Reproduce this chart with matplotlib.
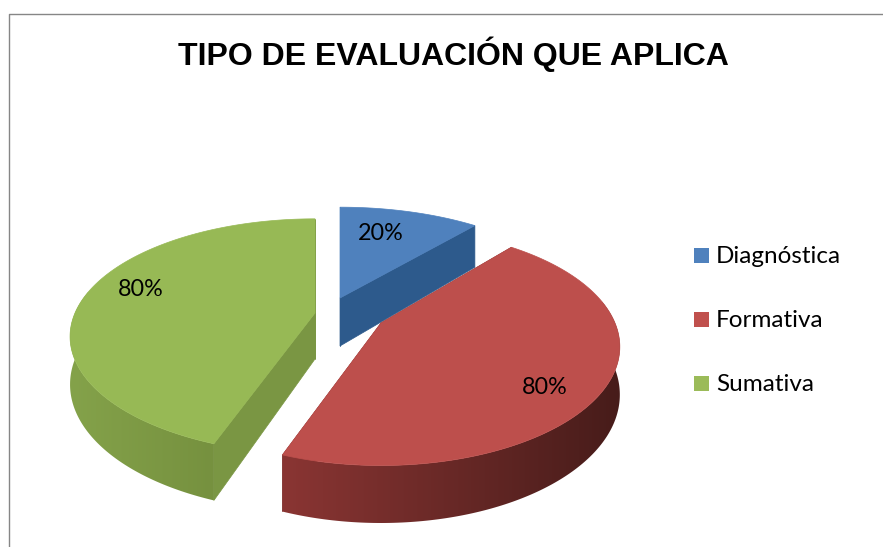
import numpy as np
import matplotlib
matplotlib.use('Agg')
import matplotlib.pyplot as plt
from matplotlib.colors import LinearSegmentedColormap
from matplotlib.patches import Polygon, Rectangle

title = 'TIPO DE EVALUACIÓN QUE APLICA'
categories = ['Diagnóstica', 'Formativa', 'Sumativa']
values = [20, 80, 80]
top_colors = ['#4f81bd', '#bd4f4c', '#97b955']
legend_colors = ['#4f81bd', '#c0504d', '#9bbb59']
cut_colors = ['#2d5a8c', '#7a302e', '#7a9643']
wall_left = ['#3f679a', '#8a3533', '#84a24a']
wall_right = ['#2d5a8c', '#471c1a', '#76913f']

# per slice layout, in pixels
centers = [(340, 298), (381, 323), (315, 313)]
radius_x = [242, 234, 240]
radius_y = [109, 114, 113]
depths = [48, 46, 46]
label_pos = [(381, 234), (545, 388), (141, 290)]
legend_y = [255.5, 319.5, 383.5]
draw_order = [2, 0, 1]

K = 0.2


def rim(t, i):
    # ellipse with a small perspective, the back is narrower than the front
    cx, cy = centers[i]
    w = 1 + K * np.sin(t)
    return cx + radius_x[i] * np.cos(t) / w, cy - radius_y[i] * np.sin(t) / w, depths[i] / w


fig = plt.figure(figsize=(8.83, 5.47), dpi=100)
ax = fig.add_axes([0, 0, 1, 1])

# chart border, only top and left are in the crop
ax.plot([8.5, 8.5, 883], [547, 13.5, 13.5], color='#868686', lw=1)

# slices run clockwise from 12 o'clock
angles = 90 - np.cumsum([0] + values) / sum(values) * 360

z = 2
for i in draw_order:
    cx, cy = centers[i]
    t = np.radians(np.linspace(angles[i], angles[i + 1], 200))
    x, y, d = rim(t, i)

    # cut faces
    for j in (0, -1):
        ax.add_patch(Polygon([(cx, cy), (x[j], y[j]), (x[j], y[j] + d[j]), (cx, cy + depths[i])],
                             fc=cut_colors[i], ec=cut_colors[i], lw=0.5, zorder=z))

    # outer wall, only the front part shows. gradient clipped to the wall outline
    front = np.sin(t) < 0.2
    if front.any():
        xf, yf, df = x[front], y[front], d[front]
        cmap = LinearSegmentedColormap.from_list('wall', [wall_left[i], wall_right[i]])
        im = ax.imshow(np.linspace(0, 1, 256)[None, :], cmap=cmap, aspect='auto', zorder=z + 1,
                       extent=(xf.min(), xf.max(), (yf + df).max() + 1, yf.min() - 1))
        wall = Polygon(np.r_[np.c_[xf, yf], np.c_[xf, yf + df][::-1]], fc='none', ec='none',
                       transform=ax.transData, zorder=z + 1)
        ax.add_patch(wall)
        im.set_clip_path(wall)

    # top face
    ax.add_patch(Polygon(np.r_[[(cx, cy)], np.c_[x, y]], fc=top_colors[i], ec=top_colors[i],
                         lw=0.5, zorder=z + 2))
    z += 3

for v, (px, py) in zip(values, label_pos):
    ax.text(px, py, f'{v}%', ha='center', va='center', fontsize=16.8, family='Lato',
            color='black', zorder=z)

for name, color, ly in zip(categories, legend_colors, legend_y):
    ax.add_patch(Rectangle((694, ly - 7.5), 15, 15, fc=color, ec='none'))
    ax.text(716, ly + 1, name, ha='left', va='center', fontsize=17.5, family='Lato', color='black')

ax.text(453, 54, title, ha='center', va='center', fontsize=23, fontweight='bold',
        family='Liberation Sans', color='black')

ax.set_xlim(0, 883)
ax.set_ylim(547, 0)
ax.axis('off')

fig.savefig('out.png', dpi=100)
